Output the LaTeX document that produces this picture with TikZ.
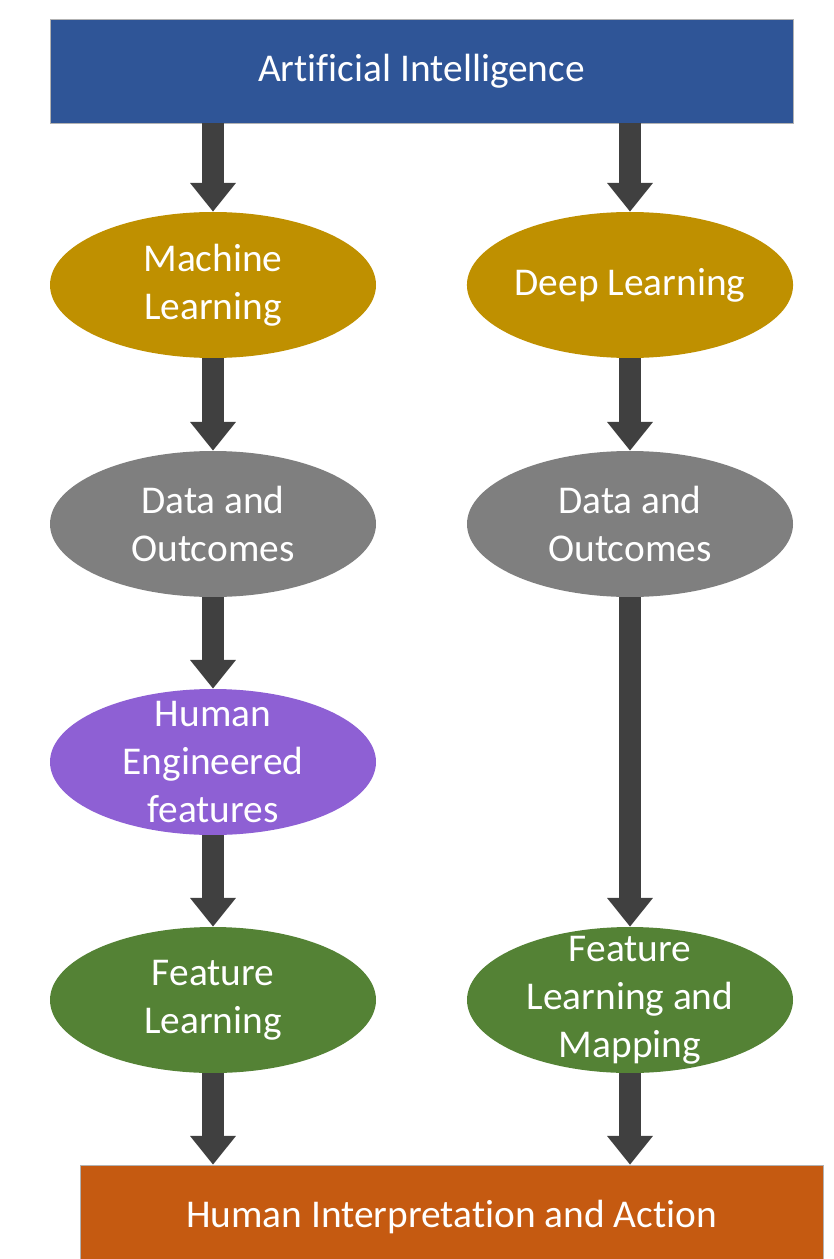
\documentclass[tikz,border=0pt]{standalone}
\usepackage{fontspec}
\setmainfont{Carlito}[Ligatures=NoCommon]
\usepackage{tikz}
\usetikzlibrary{shapes.geometric,arrows.meta}
\definecolor{aiblue}{HTML}{2F5597}
\definecolor{mlgold}{HTML}{BF9000}
\definecolor{datagray}{HTML}{7F7F7F}
\definecolor{hefpurple}{HTML}{8E60D4}
\definecolor{flgreen}{HTML}{548235}
\definecolor{actorange}{HTML}{C55A11}
\definecolor{arrowgray}{HTML}{404040}

\begin{document}
\begin{tikzpicture}[line cap=butt]
  \tikzset{
    bar/.style={rectangle,draw=gray!60,line width=0.4pt,minimum width=18.575cm,
      text=white,font=\fontsize{28}{34}\selectfont},
    blob/.style={ellipse,inner sep=0pt,minimum width=8.15cm,minimum height=3.65cm,
      text=white,align=center,font=\fontsize{28}{34}\selectfont},
    tallblob/.style={blob,inner ysep=-0.5cm},
    flow/.style={draw=arrowgray,line width=0.55cm,
      -{Triangle[width=1.1cm,length=0.72cm]}}
  }
  \useasboundingbox (0,0) rectangle (20.85,-31.475);

  % --- top and bottom bars ---
  \node[bar,fill=aiblue,minimum height=2.6cm] (ai) at (10.5375,-1.78) {Artificial Intelligence};
  \node[bar,fill=actorange,minimum height=2.6cm] (act) at (11.2875,-30.425) {Human Interpretation and Action};

  % --- left column: machine learning ---
  \node[blob,fill=mlgold] (ml) at (5.325,-7.125) {Machine\\Learning};
  \node[blob,fill=datagray] (mldata) at (5.325,-13.1) {Data and\\Outcomes};
  \node[tallblob,fill=hefpurple] (hef) at (5.325,-19.05) {Human\\Engineered\\features};
  \node[blob,fill=flgreen] (fl) at (5.325,-25.0) {Feature\\Learning};

  % --- right column: deep learning ---
  \node[blob,fill=mlgold] (dl) at (15.75,-7.125) {Deep Learning};
  \node[blob,fill=datagray] (dldata) at (15.75,-13.1) {Data and\\Outcomes};
  \node[tallblob,fill=flgreen] (flm) at (15.75,-25.0) {Feature\\Learning and\\Mapping};

  % arrows
  \draw[flow] (ml.north |- ai.south) -- (ml.north);
  \draw[flow] (ml) -- (mldata);
  \draw[flow] (mldata) -- (hef);
  \draw[flow] (hef) -- (fl);
  \draw[flow] (fl.south) -- (fl.south |- act.north);

  \draw[flow] (dl.north |- ai.south) -- (dl.north);
  \draw[flow] (dl) -- (dldata);
  \draw[flow] (dldata) -- (flm);
  \draw[flow] (flm.south) -- (flm.south |- act.north);
\end{tikzpicture}
\end{document}
